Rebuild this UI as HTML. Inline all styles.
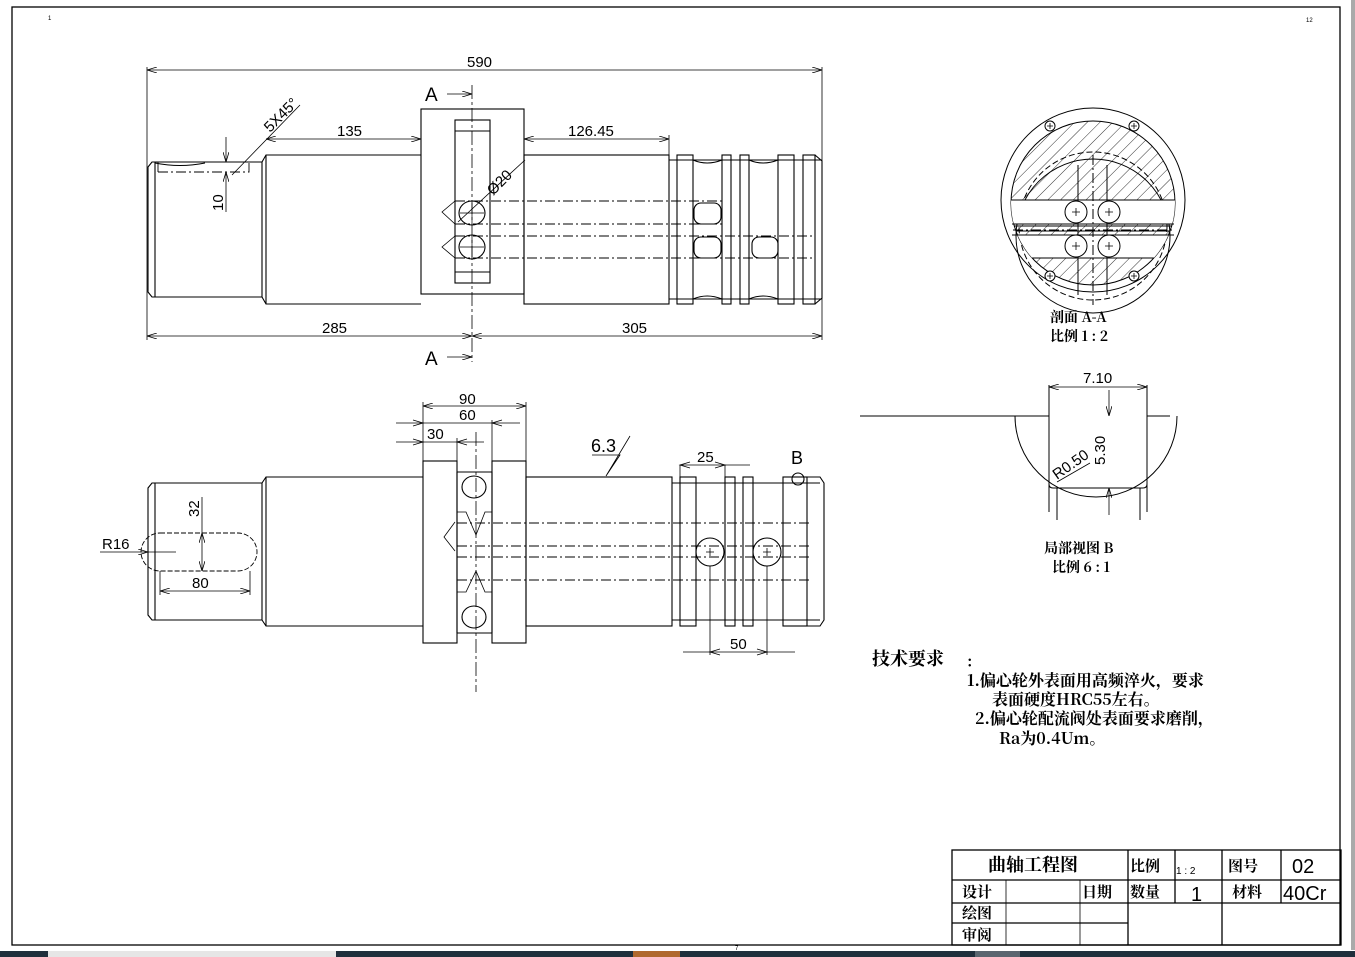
<!DOCTYPE html>
<html><head><meta charset="utf-8"><style>
html,body{margin:0;padding:0;background:#fff;}
svg{display:block;}
text{font-family:"Liberation Sans","Noto Sans CJK SC",sans-serif;fill:#000;}
.cj{font-family:"Noto Serif CJK SC","Noto Sans CJK SC",serif;font-weight:bold;}
</style></head><body>
<svg width="1355" height="957" viewBox="0 0 1355 957" xmlns="http://www.w3.org/2000/svg">
<defs>
<pattern id="h" patternUnits="userSpaceOnUse" width="9" height="9" patternTransform="rotate(45)">
<line x1="0" y1="0" x2="0" y2="9" stroke="#000" stroke-width="0.8"/></pattern>
<marker id="a" viewBox="0 0 10 6" refX="10" refY="3" markerWidth="10" markerHeight="6" orient="auto-start-reverse" markerUnits="userSpaceOnUse"><path d="M0,0 L10,3 L0,6" fill="none" stroke="#000" stroke-width="0.8"/></marker>
</defs>
<rect width="1355" height="957" fill="#fff"/>
<rect x="12" y="7" width="1328" height="938" fill="none" stroke="#000" stroke-width="1.3"/>
<text x="48" y="20" font-size="6">1</text>
<text x="1306" y="22" font-size="6">12</text>
<rect x="1351" y="0" width="4" height="950" fill="#aaa"/>
<rect x="0" y="951" width="1355" height="6" fill="#1f2f3c"/>
<rect x="48" y="951" width="288" height="6" fill="#e6e6e6"/>
<rect x="633" y="951" width="47" height="6" fill="#b0682d"/>
<rect x="975" y="951" width="45" height="6" fill="#5a6670"/>

<g fill="none" stroke="#000" stroke-width="1.1">
<path d="M152,162 L262,162 L262,297 L152,297 L148,292 L148,167 Z"/>
<line x1="155" y1="162" x2="155" y2="297"/>
<path d="M262,162 L266,155 L421,155 M262,297 L266,304 L421,304 M266,155 L266,304"/>
<rect x="421" y="109" width="103" height="185"/>
<rect x="455" y="120" width="35" height="163"/>
<line x1="455" y1="131" x2="490" y2="131"/><line x1="455" y1="272" x2="490" y2="272"/>
<rect x="524" y="155" width="145" height="149"/>
<line x1="669" y1="160" x2="822" y2="160"/><line x1="669" y1="299" x2="822" y2="299"/>
<rect x="677" y="155" width="16" height="149"/>
<rect x="722" y="155" width="9" height="149"/>
<rect x="740" y="155" width="9" height="149"/>
<rect x="778" y="155" width="16" height="149"/>
<rect x="803" y="155" width="12" height="149"/>
<path d="M815,155 L822,161 L822,298 L815,304"/>
<path d="M693,160 Q707,166 722,160 M693,299 Q707,293 722,299 M749,160 Q763,166 778,160 M749,299 Q763,293 778,299 M155,163 Q180,168 205,163"/>
<g stroke-dasharray="10,3,2,3" stroke-width="0.9">
<line x1="455" y1="201" x2="722" y2="201"/><line x1="455" y1="224" x2="722" y2="224"/>
<line x1="455" y1="236" x2="815" y2="236"/><line x1="455" y1="258" x2="815" y2="258"/>
<path d="M158,172 L249,172 L249,160 M158,172 L158,160"/>
</g>
<path d="M455,201 L442,212 L455,224 M455,236 L442,247 L455,258" stroke-width="0.8"/>
<ellipse cx="472" cy="213" rx="13" ry="12"/><ellipse cx="472" cy="247" rx="13" ry="12"/>
<path d="M460,213 h24 M472,203 v20 M460,247 h24 M472,237 v20" stroke-width="0.7"/>
<rect x="694" y="203" width="27" height="21" rx="7"/>
<rect x="694" y="237" width="27" height="21" rx="7"/>
<rect x="752" y="237" width="26" height="21" rx="7"/>
<line x1="472" y1="85" x2="472" y2="362" stroke-dasharray="14,3,3,3" stroke-width="0.8"/>
<g stroke-width="0.8">
<line x1="147" y1="67" x2="147" y2="340"/><line x1="822" y1="67" x2="822" y2="340"/>
<line x1="147" y1="70" x2="822" y2="70" marker-start="url(#a)" marker-end="url(#a)"/>
<line x1="147" y1="336" x2="472" y2="336" marker-start="url(#a)" marker-end="url(#a)"/>
<line x1="472" y1="336" x2="822" y2="336" marker-start="url(#a)" marker-end="url(#a)"/>
<line x1="266" y1="139" x2="421" y2="139" marker-start="url(#a)" marker-end="url(#a)"/>
<line x1="669" y1="135" x2="669" y2="155"/>
<line x1="524" y1="139" x2="669" y2="139" marker-start="url(#a)" marker-end="url(#a)"/>
<line x1="226" y1="137" x2="226" y2="162" marker-end="url(#a)"/>
<line x1="226" y1="212" x2="226" y2="172" marker-end="url(#a)"/>
<line x1="232" y1="175" x2="300" y2="105"/>
<line x1="458" y1="222" x2="525" y2="160"/>
<line x1="447" y1="94" x2="472" y2="94" marker-end="url(#a)"/>
<line x1="447" y1="357" x2="472" y2="357" marker-end="url(#a)"/>
</g>
</g>
<g font-size="15">
<text x="467" y="67">590</text>
<text x="322" y="333">285</text>
<text x="622" y="333">305</text>
<text x="337" y="136">135</text>
<text x="568" y="136">126.45</text>
<text x="425" y="101" font-size="19">A</text>
<text x="425" y="365" font-size="19">A</text>
<text transform="translate(223,211) rotate(-90)">10</text>
<text transform="translate(270,133) rotate(-45)">5X45°</text>
<text transform="translate(493,196) rotate(-45)">Ø20</text>
</g>

<g fill="none" stroke="#000" stroke-width="1.1">
<path d="M152,483 L262,483 L262,620 L152,620 L148,615 L148,488 Z"/>
<line x1="155" y1="483" x2="155" y2="620"/>
<path d="M262,483 L266,477 L423,477 M262,620 L266,626 L423,626 M266,477 L266,626"/>
<rect x="423" y="461" width="34" height="182"/>
<rect x="492" y="461" width="34" height="182"/>
<line x1="457" y1="472" x2="492" y2="472"/><line x1="457" y1="633" x2="492" y2="633"/>
<line x1="457" y1="472" x2="457" y2="633"/><line x1="492" y1="472" x2="492" y2="633"/>
<rect x="526" y="477" width="146" height="149"/>
<line x1="672" y1="483" x2="820" y2="483"/><line x1="672" y1="620" x2="820" y2="620"/>
<rect x="680" y="477" width="16" height="149"/>
<rect x="725" y="477" width="10" height="149"/>
<rect x="743" y="477" width="10" height="149"/>
<rect x="783" y="477" width="24" height="149"/>
<path d="M807,477 L820,477 L824,483 L824,620 L820,626 L807,626"/>
<path d="M160,533 L238,533 A19,19 0 0 1 238,571 L160,571 A19,19 0 0 1 160,533 Z" stroke-dasharray="5,2" stroke-width="0.9"/>
<ellipse cx="474" cy="487" rx="12" ry="11"/><ellipse cx="474" cy="617" rx="12" ry="11"/>
<g stroke-dasharray="10,3,2,3" stroke-width="0.9">
<line x1="457" y1="523" x2="810" y2="523"/><line x1="457" y1="546" x2="810" y2="546"/>
<line x1="457" y1="557" x2="810" y2="557"/><line x1="457" y1="580" x2="810" y2="580"/>
<line x1="457" y1="472" x2="457" y2="633"/>
</g>
<path d="M457,512 L466,512 L476,535 L485,512 L492,512 M457,592 L466,592 L476,571 L485,592 L492,592" stroke-width="0.8"/>
<path d="M455,522 L444,537 L455,551" stroke-width="0.8"/>
<circle cx="710" cy="552" r="14"/><circle cx="767" cy="552" r="14"/>
<path d="M706,552h8M710,548v8M763,552h8M767,548v8" stroke-width="0.8"/>
<circle cx="798" cy="479" r="6"/>
<line x1="476" y1="432" x2="476" y2="692" stroke-dasharray="14,3,3,3" stroke-width="0.8"/>
<g stroke-width="0.8">
<line x1="423" y1="402" x2="423" y2="461"/><line x1="526" y1="402" x2="526" y2="461"/>
<line x1="492" y1="420" x2="492" y2="461"/><line x1="457" y1="438" x2="457" y2="472"/>
<line x1="423" y1="406" x2="526" y2="406" marker-start="url(#a)" marker-end="url(#a)"/>
<line x1="396" y1="423" x2="520" y2="423"/>
<path d="M413,420 L423,423 L413,426 M502,420 L492,423 L502,426"/>
<line x1="396" y1="442" x2="484" y2="442"/>
<path d="M413,439 L423,442 L413,445 M467,439 L457,442 L467,445"/>
<line x1="160" y1="591" x2="250" y2="591" marker-start="url(#a)" marker-end="url(#a)"/>
<line x1="160" y1="571" x2="160" y2="595"/><line x1="250" y1="571" x2="250" y2="595"/>
<line x1="202" y1="497" x2="202" y2="533"/>
<line x1="202" y1="552" x2="202" y2="533" marker-end="url(#a)"/>
<line x1="202" y1="552" x2="202" y2="571" marker-end="url(#a)"/>
<line x1="100" y1="552" x2="148" y2="552" marker-end="url(#a)"/><line x1="148" y1="552" x2="176" y2="552"/>
<line x1="680" y1="465" x2="750" y2="465"/>
<path d="M690,462 L680,465 L690,468 M715,462 L725,465 L715,468"/>
<line x1="680" y1="465" x2="680" y2="477"/><line x1="725" y1="465" x2="725" y2="477"/>
<line x1="710" y1="566" x2="710" y2="655"/><line x1="767" y1="566" x2="767" y2="655"/>
<line x1="683" y1="652" x2="795" y2="652"/>
<path d="M720,649 L710,652 L720,655 M757,649 L767,652 L757,655"/>
<path d="M592,455 L620,455 L606,476 L630,436" />
</g>
</g>
<g font-size="15">
<text x="459" y="404">90</text>
<text x="459" y="420">60</text>
<text x="427" y="439">30</text>
<text x="102" y="549">R16</text>
<text x="192" y="588">80</text>
<text transform="translate(199,517) rotate(-90)">32</text>
<text x="591" y="452" font-size="18">6.3</text>
<text x="697" y="462">25</text>
<text x="730" y="649">50</text>
<text x="791" y="464" font-size="18">B</text>
</g>

<g fill="none" stroke="#000" stroke-width="1">
<clipPath id="cA"><circle cx="1093" cy="203" r="82"/></clipPath>
<circle cx="1093" cy="200" r="92"/>
<circle cx="1093" cy="203" r="82" fill="url(#h)"/>
<circle cx="1093" cy="236" r="77"/>
<circle cx="1093" cy="226" r="74" stroke-dasharray="6,3"/>
<g clip-path="url(#cA)">
<rect x="1010" y="200" width="170" height="24" fill="#fff"/>
<rect x="1010" y="235" width="170" height="23" fill="#fff"/>
<line x1="1010" y1="226" x2="1180" y2="226"/><line x1="1010" y1="231" x2="1180" y2="231"/>
</g>
<line x1="1012" y1="200" x2="1174" y2="200"/><line x1="1012" y1="224" x2="1174" y2="224"/>
<line x1="1012" y1="235" x2="1174" y2="235"/><line x1="1035" y1="258" x2="1150" y2="258"/>
<line x1="1078" y1="165" x2="1078" y2="295"/><line x1="1107" y1="165" x2="1107" y2="295"/>
<line x1="1093" y1="155" x2="1093" y2="305" stroke-dasharray="10,3,2,3"/>
<line x1="1013" y1="230" x2="1173" y2="230" stroke-dasharray="10,3,2,3"/>
<circle cx="1076" cy="212" r="11" fill="#fff"/><circle cx="1109" cy="212" r="11" fill="#fff"/>
<circle cx="1076" cy="246" r="11" fill="#fff"/><circle cx="1109" cy="246" r="11" fill="#fff"/>
<path d="M1072,212h8M1076,208v8M1105,212h8M1109,208v8M1072,246h8M1076,242v8M1105,246h8M1109,242v8" stroke-width="0.8"/>
<g fill="#fff"><circle cx="1050" cy="126" r="5"/><circle cx="1134" cy="126" r="5"/><circle cx="1050" cy="276" r="5"/><circle cx="1134" cy="276" r="5"/></g>
<path d="M1047,126h6M1050,123v6M1131,126h6M1134,123v6M1047,276h6M1050,273v6M1131,276h6M1134,273v6" stroke-width="0.8"/>
</g>
<text x="1050" y="322" font-size="14" class="cj">剖面 A-A</text>
<text x="1050" y="341" font-size="14" class="cj">比例 1 : 2</text>

<g fill="none" stroke="#000" stroke-width="1">
<path d="M1015,416 A81,81 0 1 0 1177,416"/>
<line x1="860" y1="416" x2="1049" y2="416"/><line x1="1147" y1="416" x2="1170" y2="416"/>
<path d="M1049,385 L1049,484 Q1049,488 1053,488 L1143,488 Q1147,488 1147,484 L1147,385"/>
<path d="M1049,484 L1049,512 M1147,484 L1147,512 M1057,488 L1057,520 M1140,488 L1140,520"/>
<g stroke-width="0.8">
<line x1="1049" y1="387" x2="1147" y2="387" marker-start="url(#a)" marker-end="url(#a)"/>
<line x1="1109" y1="390" x2="1109" y2="416" marker-end="url(#a)"/>
<line x1="1109" y1="515" x2="1109" y2="488" marker-end="url(#a)"/>
<line x1="1057" y1="482" x2="1090" y2="463"/>
</g>
</g>
<g font-size="15">
<text x="1083" y="383">7.10</text>
<text transform="translate(1105,465) rotate(-90)">5.30</text>
<text transform="translate(1057,480) rotate(-35)">R0.50</text>
</g>
<text x="1044" y="553" font-size="14" class="cj">局部视图 B</text>
<text x="1052" y="572" font-size="14" class="cj">比例 6 : 1</text>

<text x="872" y="665" font-size="18" class="cj">技术要求</text>
<text x="966" y="667" font-size="14" class="cj">：</text>
<g font-size="16">
<text x="967" y="686" class="cj">1.偏心轮外表面用高频淬火，要求</text>
<text x="992" y="705" class="cj">表面硬度HRC55左右。</text>
<text x="975" y="724" class="cj">2.偏心轮配流阀处表面要求磨削，</text>
<text x="999" y="744" class="cj">Ra为0.4Um。</text>
</g>

<g fill="none" stroke="#000" stroke-width="1.3">
<rect x="952" y="850" width="389" height="95"/>
<line x1="952" y1="880" x2="1341" y2="880"/>
<line x1="952" y1="903" x2="1341" y2="903"/>
<line x1="952" y1="923" x2="1128" y2="923"/>
<line x1="1128" y1="850" x2="1128" y2="945"/>
<line x1="1175" y1="850" x2="1175" y2="903"/>
<line x1="1222" y1="850" x2="1222" y2="945"/>
<line x1="1281" y1="850" x2="1281" y2="903"/>
<line x1="1006" y1="880" x2="1006" y2="945" stroke-width="0.8"/>
<line x1="1080" y1="880" x2="1080" y2="945" stroke-width="0.8"/>
</g>
<g font-size="15">
<text x="988" y="871" font-size="18" class="cj">曲轴工程图</text>
<text x="1130" y="871" class="cj">比例</text>
<text x="1176" y="874" font-size="10">1 : 2</text>
<text x="1228" y="871" class="cj">图号</text>
<text x="1292" y="873" font-size="20">02</text>
<text x="962" y="897" class="cj">设计</text>
<text x="1082" y="897" class="cj">日期</text>
<text x="1130" y="897" class="cj">数量</text>
<text x="1191" y="901" font-size="20">1</text>
<text x="1232" y="897" class="cj">材料</text>
<text x="1283" y="900" font-size="20">40Cr</text>
<text x="962" y="918" class="cj">绘图</text>
<text x="962" y="940" class="cj">审阅</text>
</g>
<text x="735" y="950" font-size="6">7</text>
</svg>
</body></html>
